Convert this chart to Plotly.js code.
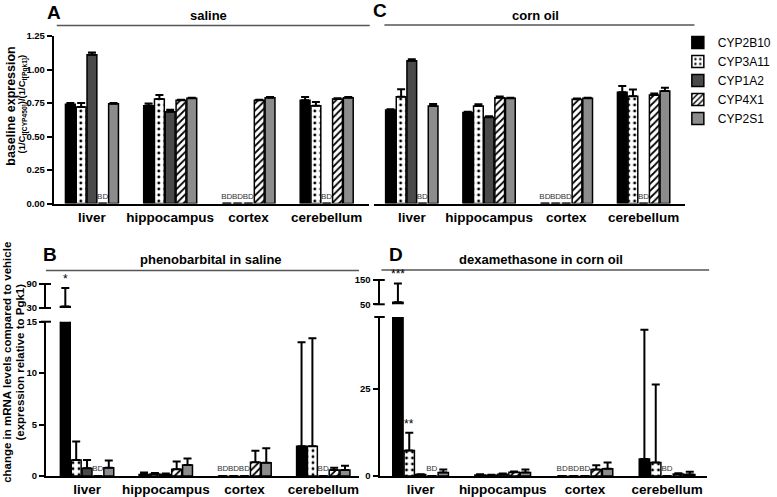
<!DOCTYPE html>
<html><head><meta charset="utf-8">
<script src="https://cdn.plot.ly/plotly-3.0.1.min.js"></script>
<style>html,body{margin:0;padding:0;background:#fff}#chart{width:777px;height:497px}</style>
</head><body><div id="chart"></div>
<script>
// ---------- DATA ----------
const categories = ['liver', 'hippocampus', 'cortex', 'cerebellum'];
const genes = ['CYP2B10', 'CYP3A11', 'CYP1A2', 'CYP4X1', 'CYP2S1'];
// null = BD (below detection)

// Panel A: saline, baseline expression
const A_CYP2B10 = [0.74, 0.73, null, 0.77];
const A_CYP3A11 = [0.72, 0.78, null, 0.73];
const A_CYP1A2  = [1.11, 0.685, null, null];
const A_CYP4X1  = [null, 0.77, 0.77, 0.78];
const A_CYP2S1  = [0.745, 0.785, 0.79, 0.79];
const A_err_CYP2B10 = [0.01, 0.017, null, 0.025];
const A_err_CYP3A11 = [0.03, 0.03, null, 0.027];
const A_err_CYP1A2  = [0.017, 0.015, null, null];
const A_err_CYP4X1  = [null, 0.005, 0.005, 0.005];
const A_err_CYP2S1  = [0.005, 0.005, 0.005, 0.005];

// Panel C: corn oil, baseline expression
const C_CYP2B10 = [0.698, 0.68, null, 0.83];
const C_CYP3A11 = [0.797, 0.728, null, 0.80];
const C_CYP1A2  = [1.066, 0.643, null, null];
const C_CYP4X1  = [null, 0.79, 0.778, 0.81];
const C_CYP2S1  = [0.728, 0.785, 0.785, 0.84];
const C_err_CYP2B10 = [0.005, 0.005, null, 0.047];
const C_err_CYP3A11 = [0.055, 0.012, null, 0.05];
const C_err_CYP1A2  = [0.01, 0.008, null, null];
const C_err_CYP4X1  = [null, 0.008, 0.005, 0.01];
const C_err_CYP2S1  = [0.014, 0.005, 0.005, 0.024];

// Panel B: phenobarbital in saline, fold change
const B_CYP2B10 = [34, 0.15, null, 2.9];
const B_CYP3A11 = [1.55, 0.2, null, 2.9];
const B_CYP1A2  = [0.75, 0.15, null, null];
const B_CYP4X1  = [null, 0.65, 1.33, 0.58];
const B_CYP2S1  = [0.8, 1.07, 1.3, 0.58];
const B_err_CYP2B10 = [46, 0.2, null, 10.1];
const B_err_CYP3A11 = [1.8, 0.1, null, 10.5];
const B_err_CYP1A2  = [0.8, 0.1, null, null];
const B_err_CYP4X1  = [null, 0.75, 1.12, 0.22];
const B_err_CYP2S1  = [0.7, 0.63, 1.4, 0.42];
const B_sig_CYP2B10 = ['*', '', '', ''];

// Panel D: dexamethasone in corn oil, fold change
const D_CYP2B10 = [58, 0.3, null, 4.9];
const D_CYP3A11 = [7.3, 0.25, null, 3.9];
const D_CYP1A2  = [0.4, 0.5, null, null];
const D_CYP4X1  = [null, 1.1, 1.9, 0.6];
const D_CYP2S1  = [1.0, 1.0, 2.1, 0.4];
const D_err_CYP2B10 = [78, 0.2, null, 37.1];
const D_err_CYP3A11 = [5.1, 0.1, null, 22.4];
const D_err_CYP1A2  = [0.1, 0.2, null, null];
const D_err_CYP4X1  = [null, 0.2, 1.2, 0.2];
const D_err_CYP2S1  = [0.9, 0.9, 1.8, 0.8];
const D_sig_CYP2B10 = ['***', '', '', ''];
const D_sig_CYP3A11 = ['**', '', '', ''];

// ---------- STYLE ----------
const W = 777, H = 497;
const px = x => x / W, py = y => 1 - y / H;
const FONT = 'Liberation Sans, Arial, Helvetica, sans-serif';
const BARGAP = 0.31, GROUPGAP = 0.09;
const geneStyle = {
  CYP2B10: {color: '#000000'},
  CYP3A11: {color: '#ffffff', pattern: {shape: '.', fgcolor: '#000', bgcolor: '#fff', size: 6, solidity: 0.18}},
  CYP1A2:  {color: '#4a4a4a'},
  CYP4X1:  {color: '#ffffff', pattern: {shape: '/', fgcolor: '#000', bgcolor: '#fff', size: 5, solidity: 0.35}},
  CYP2S1:  {color: '#8c8c8c'}
};

const panelData = {
  A: {mean: [A_CYP2B10, A_CYP3A11, A_CYP1A2, A_CYP4X1, A_CYP2S1], err: [A_err_CYP2B10, A_err_CYP3A11, A_err_CYP1A2, A_err_CYP4X1, A_err_CYP2S1]},
  C: {mean: [C_CYP2B10, C_CYP3A11, C_CYP1A2, C_CYP4X1, C_CYP2S1], err: [C_err_CYP2B10, C_err_CYP3A11, C_err_CYP1A2, C_err_CYP4X1, C_err_CYP2S1]},
  B: {mean: [B_CYP2B10, B_CYP3A11, B_CYP1A2, B_CYP4X1, B_CYP2S1], err: [B_err_CYP2B10, B_err_CYP3A11, B_err_CYP1A2, B_err_CYP4X1, B_err_CYP2S1]},
  D: {mean: [D_CYP2B10, D_CYP3A11, D_CYP1A2, D_CYP4X1, D_CYP2S1], err: [D_err_CYP2B10, D_err_CYP3A11, D_err_CYP1A2, D_err_CYP4X1, D_err_CYP2S1]}
};

const xs = categories.map((c, i) => i);
const traces = [];
function addPanel(key, xa, ya, showlegend, withText) {
  const p = panelData[key];
  genes.forEach((g, k) => {
    const m = p.mean[k], e = p.err[k];
    traces.push({
      type: 'bar', name: g, x: xs, y: m.map(v => v === null ? 0 : v),
      xaxis: xa, yaxis: ya, showlegend: showlegend, legendgroup: g,
      marker: Object.assign({line: {color: '#000', width: 1.5}}, geneStyle[g]),
      error_y: {type: 'data', symmetric: false, array: e.map(v => v === null ? NaN : v),
                arrayminus: e.map(() => 0), color: '#000', thickness: 2, width: 4},
      text: withText ? m.map(v => v === null ? 'BD' : '') : undefined,
      textposition: 'outside', constraintext: 'none', cliponaxis: false,
      textfont: {family: FONT, size: 8, color: '#333'},
      hoverinfo: 'skip'
    });
  });
}
addPanel('A', 'x', 'y', true, true);
addPanel('C', 'x2', 'y2', false, true);
addPanel('B', 'x3', 'y3', false, true);
addPanel('B', 'x3', 'y4', false, false);
addPanel('D', 'x4', 'y5', false, true);
addPanel('D', 'x4', 'y6', false, false);

// ---------- AXES ----------
function xAxis(l, r, center0, step, anchor) {
  return {
    domain: [px(l), px(r)], range: [(l - center0) / step, (r - center0) / step],
    anchor: anchor, tickvals: xs, ticktext: categories, ticks: '',
    showline: true, linewidth: 2, linecolor: '#000', showgrid: false, zeroline: false,
    tickfont: {family: FONT, size: 13.5, color: '#000', weight: 'bold'}, fixedrange: true
  };
}
function yAxis(top, bottom, range, tickvals, anchor, fmt) {
  return {
    domain: [py(bottom), py(top)], range: range, anchor: anchor, tickvals: tickvals,
    tickformat: fmt || '', ticks: 'outside', ticklen: 5, tickwidth: 2, tickcolor: '#000',
    showline: true, linewidth: 2, linecolor: '#000', showgrid: false, zeroline: false,
    tickfont: {family: FONT, size: 9.5, color: '#000', weight: 'bold'}, fixedrange: true
  };
}

const layout = {
  width: W, height: H, margin: {l: 0, r: 0, t: 0, b: 0},
  paper_bgcolor: '#fff', plot_bgcolor: 'rgba(0,0,0,0)',
  barmode: 'group', bargap: BARGAP, bargroupgap: GROUPGAP,
  font: {family: FONT, color: '#000'},
  xaxis:  xAxis(55, 377, 94, 80, 'y'),
  xaxis2: xAxis(382, 700, 421, 79, 'y2'),
  xaxis3: xAxis(47, 367, 89, 80.5, 'y3'),
  xaxis4: xAxis(388, 723, 430, 84, 'y5'),
  yaxis:  yAxis(36, 203.5, [0, 1.25], [0, 0.25, 0.5, 0.75, 1, 1.25], 'x', '.2f'),
  yaxis2: Object.assign(yAxis(36, 203.5, [0, 1.25], [], 'x2'), {showline: false, ticks: '', showticklabels: false}),
  yaxis3: yAxis(321.7, 476, [0, 15], [0, 5, 10, 15], 'x3'),
  yaxis4: yAxis(284, 308, [30, 90], [30, 90], 'x3'),
  yaxis5: yAxis(317, 476, [0, 45.7], [0, 25], 'x4'),
  yaxis6: yAxis(280, 304.3, [50, 150], [50, 150], 'x4'),
  showlegend: true,
  legend: {x: px(693), y: py(28), xanchor: 'left', yanchor: 'top', bgcolor: 'rgba(0,0,0,0)',
           font: {family: FONT, size: 12, color: '#000'}, tracegroupgap: 0, itemclick: false},
  shapes: [], annotations: []
};

// title underlines
[[58, 378, 25.5], [393, 710, 25], [47, 367, 270.5], [390, 725, 270]].forEach(([a, b, y]) => {
  layout.shapes.push({type: 'line', xref: 'paper', yref: 'paper', x0: px(a), x1: px(b), y0: py(y), y1: py(y),
                      line: {color: '#555', width: 1.5}});
});
// axis break caps
[['x3', 'y3', 1], ['x3', 'y4', 1], ['x3', 'y4', 0], ['x4', 'y5', 1], ['x4', 'y6', 1], ['x4', 'y6', 0]].forEach(([xa, ya, yv]) => {
  layout.shapes.push({type: 'line', xref: xa + ' domain', yref: ya + ' domain', x0: -0.016, x1: 0.016, y0: yv, y1: yv,
                      line: {color: '#000', width: 2}});
});

function ann(text, x, y, size, extra) {
  layout.annotations.push(Object.assign({text: text, xref: 'paper', yref: 'paper', x: px(x), y: py(y),
    xanchor: 'center', yanchor: 'middle',
    showarrow: false, font: {family: FONT, size: size, color: '#000'}}, extra || {}));
}
ann('<b>A</b>', 55, 12, 19);
ann('<b>C</b>', 388, 10, 19);
ann('<b>B</b>', 51, 254, 19);
ann('<b>D</b>', 405, 254, 19);
ann('<b>saline</b>', 213, 16, 13);
ann('<b>corn oil</b>', 547, 16, 13);
ann('<b>phenobarbital in saline</b>', 216, 259, 13);
ann('<b>dexamethasone in corn oil</b>', 553, 259, 13);
ann('<b>baseline expression</b>', 11, 106, 12.5, {textangle: -90});
ann('<b>(1/C<sub>t[CYP450]</sub>)/(1/C<sub>t[Pgk1]</sub>)</b>', 22, 104, 9.5, {textangle: -90});
ann('<b>change in mRNA levels compared to vehicle</b>', 7, 362, 11.5, {textangle: -90});
ann('<b>(expression relative to Pgk1)</b>', 20, 362, 11.5, {textangle: -90});

// significance marks, placed above the error bar of their bar
function barCenter(cat, k) {
  const w = 1 - BARGAP;
  return cat - w / 2 + (k + 0.5) * w / genes.length;
}
function addSig(sig, k, mean, err, xa, yaLow, yaHigh, lowTop) {
  sig.forEach((s, i) => {
    if (!s) return;
    const top = mean[i] + err[i];
    layout.annotations.push({text: s, xref: xa, yref: top > lowTop ? yaHigh : yaLow, x: barCenter(i, k), y: top,
      xanchor: 'center', yanchor: 'bottom', showarrow: false, font: {family: FONT, size: 12, color: '#000'}});
  });
}
addSig(B_sig_CYP2B10, 0, B_CYP2B10, B_err_CYP2B10, 'x3', 'y3', 'y4', 15);
addSig(D_sig_CYP2B10, 0, D_CYP2B10, D_err_CYP2B10, 'x4', 'y5', 'y6', 45.7);
addSig(D_sig_CYP3A11, 1, D_CYP3A11, D_err_CYP3A11, 'x4', 'y5', 'y6', 45.7);

Plotly.newPlot('chart', traces, layout, {displayModeBar: false, staticPlot: true});
</script></body></html>
